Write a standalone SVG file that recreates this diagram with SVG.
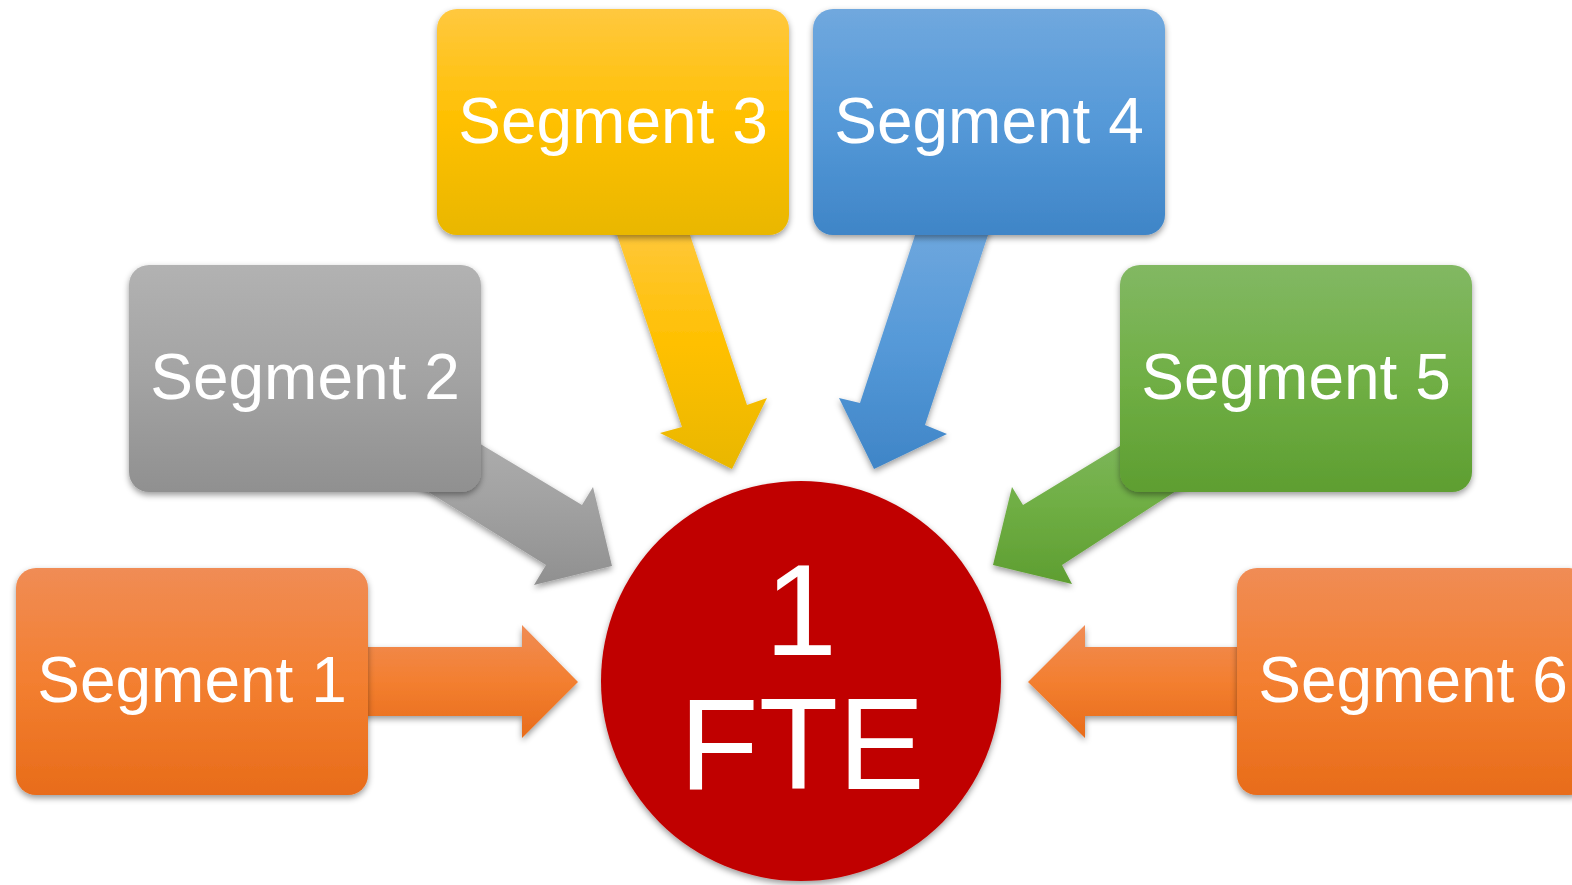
<svg xmlns="http://www.w3.org/2000/svg" width="1572" height="885" viewBox="0 0 1572 885">
<defs>
<linearGradient id="gOrange" x1="0" y1="0" x2="0" y2="1"><stop offset="0" stop-color="#F08C55"/><stop offset="0.5" stop-color="#F37F30"/><stop offset="1" stop-color="#E86C1A"/></linearGradient>
<linearGradient id="gGray" x1="0" y1="0" x2="0" y2="1"><stop offset="0" stop-color="#B2B2B2"/><stop offset="0.5" stop-color="#A3A3A3"/><stop offset="1" stop-color="#909090"/></linearGradient>
<linearGradient id="gYellow" x1="0" y1="0" x2="0" y2="1"><stop offset="0" stop-color="#FFC83F"/><stop offset="0.5" stop-color="#FFC000"/><stop offset="1" stop-color="#E9B700"/></linearGradient>
<linearGradient id="gBlue" x1="0" y1="0" x2="0" y2="1"><stop offset="0" stop-color="#70A8DE"/><stop offset="0.5" stop-color="#5599D8"/><stop offset="1" stop-color="#3F85C7"/></linearGradient>
<linearGradient id="gGreen" x1="0" y1="0" x2="0" y2="1"><stop offset="0" stop-color="#82B863"/><stop offset="0.5" stop-color="#70AF45"/><stop offset="1" stop-color="#5E9E31"/></linearGradient>
<filter id="sh" x="-20%" y="-20%" width="140%" height="140%"><feDropShadow dx="0" dy="3" stdDeviation="3" flood-color="#000" flood-opacity="0.4"/></filter>
</defs>
<style>
.lbl{font-family:"Liberation Sans",Arial,sans-serif;font-size:64px;fill:#fff;text-anchor:middle}
.big{font-family:"Liberation Sans",Arial,sans-serif;font-size:130px;fill:#fff;text-anchor:middle}
.box{filter:url(#sh)}
.arr{filter:url(#sh)}
</style>
<rect width="1572" height="885" fill="#fff"/>
<g id="connectors">
<polygon class="arr" fill="url(#gOrange)" points="360,647 522,647 522,625 578,682 522,738 522,716 360,716"/>
<polygon class="arr" fill="url(#gGray)" points="417,406 582,505 593,487 612,566 534,585 546,565 380,462"/>
<polygon class="arr" fill="url(#gYellow)" points="612,220 682,427 660,433 732,469 767,398 747,405 685,220"/>
<polygon class="arr" fill="url(#gBlue)" points="920,220 860,403 839,398 874,469 947,434 925,425 993,220"/>
<polygon class="arr" fill="url(#gGreen)" points="1166,418 1023,505 1012,487 993,565 1072,584 1062,565 1213,467"/>
<polygon class="arr" fill="url(#gOrange)" points="1250,647 1085,647 1085,625 1028,682 1085,738 1085,716 1250,716"/>
</g>
<g id="segment1"><rect class="box" x="16" y="568" width="352" height="227" rx="20" fill="url(#gOrange)"/><text class="lbl" x="192" y="702">Segment 1</text></g>
<g id="segment2"><rect class="box" x="129" y="265" width="352" height="227" rx="20" fill="url(#gGray)"/><text class="lbl" x="305" y="399">Segment 2</text></g>
<g id="segment3"><rect class="box" x="437" y="9" width="352" height="226" rx="20" fill="url(#gYellow)"/><text class="lbl" x="613" y="143">Segment 3</text></g>
<g id="segment4"><rect class="box" x="813" y="9" width="352" height="226" rx="20" fill="url(#gBlue)"/><text class="lbl" x="989" y="143">Segment 4</text></g>
<g id="segment5"><rect class="box" x="1120" y="265" width="352" height="227" rx="20" fill="url(#gGreen)"/><text class="lbl" x="1296" y="399">Segment 5</text></g>
<g id="segment6"><rect class="box" x="1237" y="568" width="352" height="227" rx="20" fill="url(#gOrange)"/><text class="lbl" x="1413" y="702">Segment 6</text></g>
<g id="fte"><circle cx="801" cy="681" r="200" fill="#C00000" filter="url(#sh)"/><text class="big" x="801" y="655">1</text><text class="big" x="802" y="789">FTE</text></g>
</svg>
